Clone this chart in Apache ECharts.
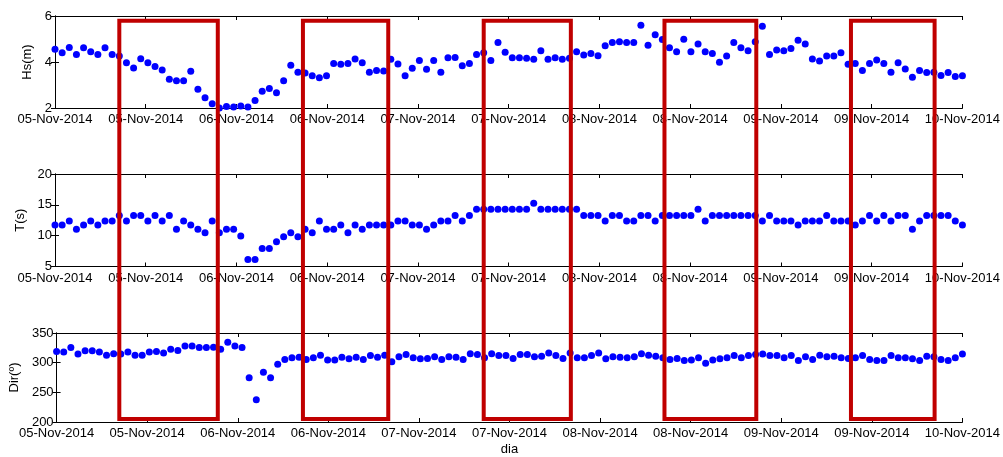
<!DOCTYPE html>
<html>
<head>
<meta charset="utf-8">
<script src="https://cdn.jsdelivr.net/npm/echarts@6/dist/echarts.min.js"></script>
<style>
  html, body { margin: 0; padding: 0; background: #fff; }
  #chart { width: 1003px; height: 457px; }
</style>
</head>
<body>
<div id="chart"></div>
<script>
// Tick labels along the time axis (one every 12.7 h, hourly samples)
const tickLabels = ['05-Nov-2014', '05-Nov-2014', '06-Nov-2014', '06-Nov-2014', '07-Nov-2014',
  '07-Nov-2014', '08-Nov-2014', '08-Nov-2014', '09-Nov-2014', '09-Nov-2014', '10-Nov-2014'];
const tickStep = 12.7;

// Significant wave height (m), hourly
const hs = [4.55, 4.40, 4.63, 4.33, 4.62, 4.45, 4.33, 4.62, 4.33, 4.26, 3.97, 3.74, 4.14, 3.97, 3.80, 3.65, 3.25, 3.18, 3.18, 3.60,
  2.82, 2.45, 2.19, 2.00, 2.07, 2.04, 2.09, 2.04, 2.33, 2.73, 2.85, 2.66, 3.18, 3.86, 3.55, 3.52, 3.40, 3.32, 3.40,
  3.94, 3.90, 3.94, 4.13, 3.97, 3.55, 3.63, 3.61, 4.12, 3.91, 3.40, 3.73, 4.06, 3.68, 4.06, 3.55, 4.19, 4.20, 3.84, 3.94,
  4.33, 4.40, 4.06, 4.85, 4.42, 4.19, 4.19, 4.16, 4.12, 4.49, 4.12, 4.19, 4.12, 4.16, 4.45, 4.30, 4.37, 4.27, 4.71, 4.85,
  4.88, 4.85, 4.85, 5.60, 4.73, 5.19,
  4.98, 4.62, 4.45, 4.99, 4.45, 4.78, 4.45, 4.37, 3.99, 4.26, 4.85, 4.62, 4.49, 4.88, 5.55, 4.33, 4.52, 4.49, 4.59, 4.95,
  4.78, 4.13, 4.04, 4.26, 4.26, 4.40, 3.90, 3.94, 3.63, 3.94, 4.09, 3.94, 3.55, 3.97, 3.70, 3.34, 3.63, 3.54, 3.55, 3.41,
  3.54, 3.37, 3.40];

// Peak period (s), hourly
const period = [11.74, 11.74, 12.39, 11.03, 11.74, 12.39, 11.74, 12.39, 12.39, 13.26, 12.39, 13.26, 13.26, 12.39, 13.26, 12.39, 13.26, 11.03, 12.39, 11.74,
  11.03, 10.49, 12.39, 10.49, 11.03, 11.03, 9.95, 6.14, 6.14, 7.93, 7.93, 9.02, 9.84, 10.49, 9.84, 11.03, 10.49, 12.39, 11.03,
  11.03, 11.74, 10.49, 11.74, 11.03, 11.74, 11.74, 11.74, 11.74, 12.39, 12.39, 11.74, 11.74, 11.03, 11.74, 12.39, 12.39, 13.26, 12.39, 13.26,
  14.29, 14.29, 14.29, 14.29, 14.29, 14.29, 14.29, 14.29, 15.27, 14.29, 14.29, 14.29, 14.29, 14.29, 14.29,
  13.26, 13.26, 13.26, 12.39, 13.26, 13.26, 12.39, 12.39, 13.26, 13.26, 12.39,
  13.26, 13.26, 13.26, 13.26, 13.26, 14.29, 12.39, 13.26, 13.26, 13.26, 13.26, 13.26, 13.26, 13.26, 12.39, 13.26,
  12.39, 12.39, 12.39, 11.74, 12.39, 12.39, 12.39, 13.26, 12.39, 12.39, 12.39, 11.74, 12.39, 13.26, 12.39, 13.26, 12.39,
  13.26, 13.26, 11.03, 12.39, 13.26, 13.26, 13.26, 13.26, 12.39, 11.74];

// Mean wave direction (deg), hourly
const dir = [319.0, 317.9, 325.5, 314.7, 320.1, 320.1, 317.9, 312.5, 315.2, 314.7, 317.9, 312.5, 312.5, 317.9, 319.0, 316.3, 322.8, 320.7, 328.3, 328.3,
  325.5, 325.5, 326.1, 322.8, 334.2, 328.3, 325.5, 274.5, 237.5, 283.7, 274.5, 297.3, 305.4, 308.2, 309.2, 305.4, 308.2, 312.5, 304.3,
  304.3, 309.2, 306.5, 309.2, 305.4, 312.0, 309.2, 312.5, 301.6, 309.8, 313.6, 308.2, 306.5, 307.1, 309.8, 305.4, 309.8, 309.2, 305.4, 315.2,
  313.6, 308.2, 315.2, 312.0, 312.0, 307.1, 313.6, 313.6, 309.8, 310.9, 316.3, 312.0, 307.1, 316.3, 308.2, 308.2, 312.0, 316.3, 306.5, 309.8,
  309.2, 308.2, 309.8, 315.2, 312.5, 310.9,
  308.2, 305.4, 307.1, 303.8, 304.3, 308.2, 298.9, 304.3, 306.5, 308.2, 312.0, 308.2, 312.0, 313.6, 314.7, 312.0, 312.0, 308.2, 312.0, 303.8,
  309.8, 305.4, 312.5, 309.8, 310.9, 308.2, 307.1, 308.2, 312.0, 305.4, 303.8, 303.8, 312.0, 308.2, 308.2, 306.5, 303.8, 310.9, 309.8, 305.4,
  303.8, 308.2, 314.7];

// Highlighted time windows (hours from start), spanning all three panels
const boxStart = [9.0, 34.7, 60.0, 85.3, 111.4];
const boxEnd = [22.6, 46.5, 72.1, 98.1, 123.1];
const boxTopHs = 5.79;      // upper edge, in Hs units
const boxBottomDir = 205;   // lower edge, in Dir units

const font = "'Liberation Sans', Arial, Helvetica, sans-serif";
const lastHour = hs.length - 1;

const panels = [
  { name: 'Hs(m)', data: hs, min: 2, max: 6, interval: 2, top: 16, height: 92, nameGap: 14 },
  { name: 'T(s)', data: period, min: 5, max: 20, interval: 5, top: 174, height: 92.5, nameGap: 21 },
  { name: 'Dir(º)', data: dir, min: 200, max: 350, interval: 50, top: 333, height: 92, nameGap: 30 }
];

const lineBlack = { color: '#000', width: 1 };
const grids = [], xAxes = [], yAxes = [], series = [];

panels.forEach((p, k) => {
  grids.push({ left: 55, right: 40, top: p.top, height: p.height });
  const xBase = {
    type: 'value', gridIndex: k, min: 0, max: lastHour, interval: tickStep,
    splitLine: { show: false },
    axisLine: { show: true, lineStyle: lineBlack },
    axisTick: { show: true, inside: true, length: 4, lineStyle: lineBlack }
  };
  xAxes.push(Object.assign({}, xBase, {
    position: 'bottom',
    axisLabel: {
      show: true, margin: 5, color: '#000', fontFamily: font, fontSize: 13,
      showMinLabel: true, showMaxLabel: true,
      formatter: v => tickLabels[Math.round(v / tickStep)]
    },
    name: k === 2 ? 'dia' : '',
    nameLocation: 'middle', nameGap: 21,
    nameTextStyle: { color: '#000', fontFamily: font, fontSize: 13 }
  }));
  xAxes.push(Object.assign({}, xBase, { position: 'top', axisLabel: { show: false } }));

  const yBase = {
    type: 'value', gridIndex: k, min: p.min, max: p.max, interval: p.interval,
    splitLine: { show: false },
    axisLine: { show: true, lineStyle: lineBlack },
    axisTick: { show: true, inside: true, length: 4, lineStyle: lineBlack }
  };
  yAxes.push(Object.assign({}, yBase, {
    position: 'left',
    axisLabel: { show: true, margin: 3, color: '#000', fontFamily: font, fontSize: 13 },
    name: p.name, nameLocation: 'middle', nameGap: p.nameGap,
    nameTextStyle: { color: '#000', fontFamily: font, fontSize: 13 }
  }));
  yAxes.push(Object.assign({}, yBase, { position: 'right', axisLabel: { show: false } }));

  series.push({
    type: 'scatter', xAxisIndex: 2 * k, yAxisIndex: 2 * k,
    symbol: 'circle', symbolSize: 7,
    itemStyle: { color: '#0000ff', opacity: 1 },
    data: p.data.map((v, i) => [i, v]),
    z: 3
  });
});

const chart = echarts.init(document.getElementById('chart'), null, { renderer: 'canvas' });
chart.setOption({
  animation: false,
  backgroundColor: '#fff',
  grid: grids,
  xAxis: xAxes,
  yAxis: yAxes,
  series: series
});

// Red frames drawn across the three panels
const frames = boxStart.map((s, k) => {
  const a = chart.convertToPixel({ seriesIndex: 0 }, [s, boxTopHs]);
  const b = chart.convertToPixel({ seriesIndex: 2 }, [boxEnd[k], boxBottomDir]);
  return {
    type: 'rect', z: 100,
    shape: { x: a[0], y: a[1], width: b[0] - a[0], height: b[1] - a[1] },
    style: { fill: 'none', stroke: '#c00000', lineWidth: 4 }
  };
});
chart.setOption({ graphic: frames });
</script>
</body>
</html>
